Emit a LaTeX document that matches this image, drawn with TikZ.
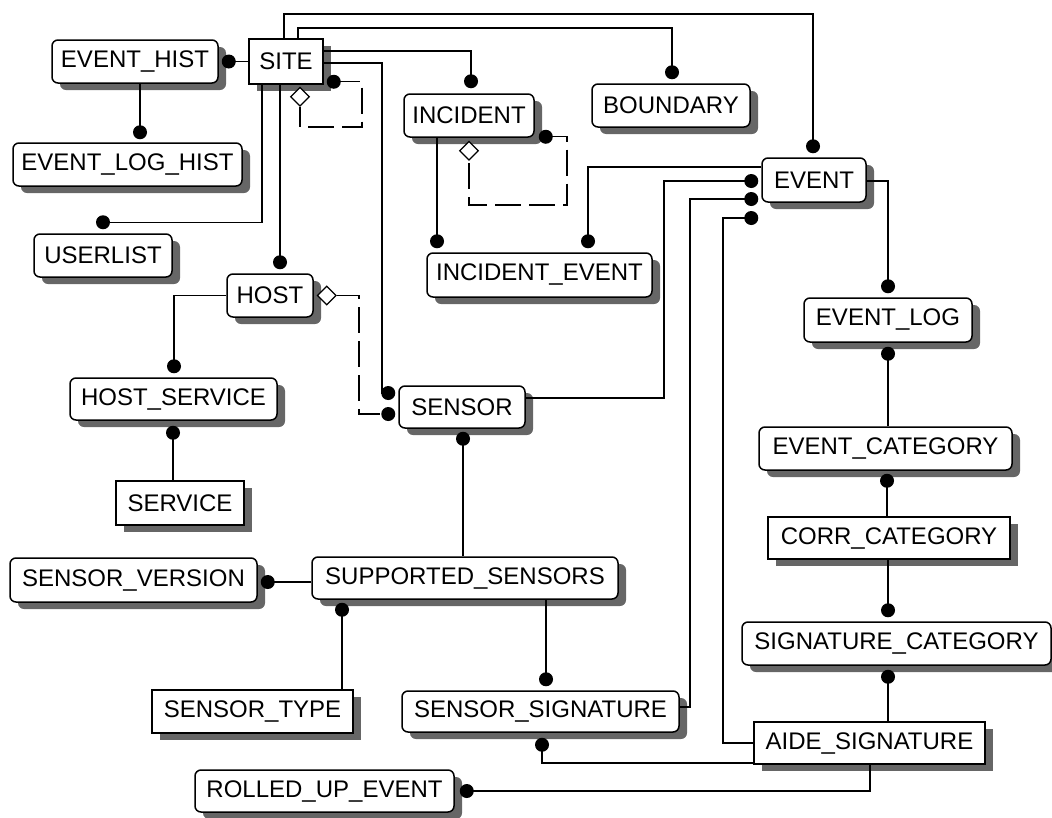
\documentclass[tikz,border=0pt]{standalone}
\usepackage{fontspec}
\setmainfont{Liberation Sans}
\usetikzlibrary{shapes.geometric,shadows,calc}
\begin{document}
\begin{tikzpicture}[x=1pt,y=-1pt,
  ent/.style={draw, fill=white, line width=1.5pt, rounded corners=6pt, inner sep=0pt,
    font=\fontsize{24}{28}\selectfont,
    drop shadow={shadow xshift=8pt, shadow yshift=-7pt, fill=black!60, opacity=1}},
  indep/.style={ent, sharp corners},
  sz/.style 2 args={minimum width=#1pt, minimum height=#2pt},
  link/.style={line width=1.4pt},
  optlink/.style={link, dash pattern=on 26pt off 8pt},
  dot/.style={circle, fill=black, inner sep=0pt, minimum size=14pt},
  diam/.style={diamond, draw, fill=white, line width=1.3pt, inner sep=0pt,
    minimum width=19pt, minimum height=19pt}]

\useasboundingbox (0,0) rectangle (1052,817);

% entities
\node[ent,   sz={166}{43}] (EH)   at (135,61.5)   {EVENT\_HIST};
\node[indep, sz={74}{45}]  (SITE) at (286,61.5)   {SITE};
\node[ent,   sz={229}{43}] (ELH)  at (127.5,164.5){EVENT\_LOG\_HIST};
\node[ent,   sz={138}{43}] (UL)   at (103,255.5)  {USERLIST};
\node[ent,   sz={86}{43}]  (HOST) at (270,295.5)  {HOST};
\node[ent,   sz={207}{42}] (HS)   at (173.5,399)  {HOST\_SERVICE};
\node[indep, sz={128}{44}] (SVC)  at (180,503)    {SERVICE};
\node[ent,   sz={126}{42}] (SEN)  at (462,407)    {SENSOR};
\node[ent,   sz={130}{43}] (INC)  at (469,115.5)  {INCIDENT};
\node[ent,   sz={158}{43}] (BND)  at (671,105.5)  {BOUNDARY};
\node[ent,   sz={225}{44}] (IE)   at (539.5,275)  {INCIDENT\_EVENT};
\node[ent,   sz={104}{44}] (EV)   at (814,180)    {EVENT};
\node[ent,   sz={168}{44}] (EL)   at (888,320)    {EVENT\_LOG};
\node[ent,   sz={253}{43}] (EC)   at (885.5,448.5){EVENT\_CATEGORY};
\node[indep, sz={242}{42}] (CC)   at (889,538)    {CORR\_CATEGORY};
\node[ent,   sz={309}{43}] (SC)   at (896.5,643.5){SIGNATURE\_CATEGORY};
\node[indep, sz={231}{42}] (AS)   at (869.5,743)  {AIDE\_SIGNATURE};
\node[ent,   sz={306}{42}] (SUP)  at (465,578)    {SUPPORTED\_SENSORS};
\node[ent,   sz={277}{41}] (SS)   at (540.5,711.5){SENSOR\_SIGNATURE};
\node[ent,   sz={247}{44}] (SVER) at (133.5,580)  {SENSOR\_VERSION};
\node[indep, sz={201}{43}] (ST)   at (252.5,711.5){SENSOR\_TYPE};
\node[ent,   sz={259}{42}] (RU)   at (324.5,791)  {ROLLED\_UP\_EVENT};

% recursive and optional relationships (dashed, diamond at the parent)
\node[diam] (sd) at ($(SITE.south -| 300,0)+(0,12)$) {};
\node[diam] (id) at ($(INC.south)+(0,13)$) {};
\node[diam] (hd) at ($(HOST.east)+(13,0)$) {};
\draw[optlink] ($(SITE.south east)+(10,-3)$) -| (362,127) -| (sd.south);
\node[dot] at ($(SITE.south east)+(10,-3)$) {};
\draw[optlink] ($(INC.south east)+(11,-1)$) -| (567,205) -| (id.south);
\node[dot] at ($(INC.south east)+(11,-1)$) {};
\draw[optlink] (hd.east) -| (359,414) -- ($(SEN.west |- 0,414)+(-10,0)$) node[dot]{};

% SITE relationships
\draw[link] (SITE.west) -- ($(EH.east)+(10,0)$) node[dot]{};
\draw[link] (SITE.north -| 284,0) |- (813,14) -- ($(EV.north -| 813,0)+(0,-11)$) node[dot]{};
\draw[link] (SITE.north -| 298,0) |- (672,28) -- ($(BND.north -| 672,0)+(0,-11)$) node[dot]{};
\draw[link] (SITE.east |- 0,51) -| ($(INC.north -| 471,0)+(0,-12)$) node[dot]{};
\draw[link] (SITE.east |- 0,63) -| (382,393) -- ($(SEN.west |- 0,393)+(-10,0)$) node[dot]{};
\draw[link] (SITE.south -| 262,0) |- ($(UL.north)+(0,-11)$) node[dot]{};
\draw[link] (SITE.south -| 280,0) -- ($(HOST.north -| 280,0)+(0,-11)$) node[dot]{};

% history and host
\draw[link] (EH.south -| 140,0) -- ($(ELH.north -| 140,0)+(0,-10)$) node[dot]{};
\draw[link] (HOST.west) -| ($(HS.north -| 174,0)+(0,-11)$) node[dot]{};
\draw[link] (SVC.north -| 173,0) -- ($(HS.south -| 173,0)+(0,12)$) node[dot]{};

% incidents
\draw[link] (INC.south -| 437,0) -- ($(IE.north -| 437,0)+(0,-11)$) node[dot]{};
\draw[link] (EV.west |- 0,167) -| ($(IE.north -| 588,0)+(0,-11)$) node[dot]{};

% events
\draw[link] (SEN.east |- 0,398) -| (664,181) -- ($(EV.west |- 0,181)+(-10,0)$) node[dot]{};
\draw[link] (SS.east |- 0,707) -| (690,199) -- ($(EV.west |- 0,199)+(-10,0)$) node[dot]{};
\draw[link] (AS.west |- 0,743) -| (723,218) -- ($(EV.west |- 0,218)+(-10,0)$) node[dot]{};
\draw[link] (EV.east |- 0,181) -| ($(EL.north)+(0,-11)$) node[dot]{};

% categories
\draw[link] (EC.north -| EL.south) -- ($(EL.south)+(0,11)$) node[dot]{};
\draw[link] (CC.north -| 887,0) -- ($(EC.south -| 887,0)+(0,10)$) node[dot]{};
\draw[link] (CC.south -| 888,0) -- ($(SC.north -| 888,0)+(0,-11)$) node[dot]{};
\draw[link] (AS.north -| 888,0) -- ($(SC.south -| 888,0)+(0,11)$) node[dot]{};

% signatures
\draw[link] (AS.west |- 0,763) -| ($(SS.south -| 542,0)+(0,12)$) node[dot]{};
\draw[link] (AS.south -| 870,0) |- ($(RU.east)+(12,0)$) node[dot]{};

% sensors
\draw[link] (SUP.north -| 463,0) -- ($(SEN.south -| 463,0)+(0,10)$) node[dot]{};
\draw[link] (SUP.west |- 0,582) -- ($(SVER.east |- 0,582)+(10,0)$) node[dot]{};
\draw[link] (ST.north -| 342,0) -- ($(SUP.south -| 342,0)+(0,10)$) node[dot]{};
\draw[link] (SUP.south -| 546,0) -- ($(SS.north -| 546,0)+(0,-11)$) node[dot]{};
\end{tikzpicture}
\end{document}
